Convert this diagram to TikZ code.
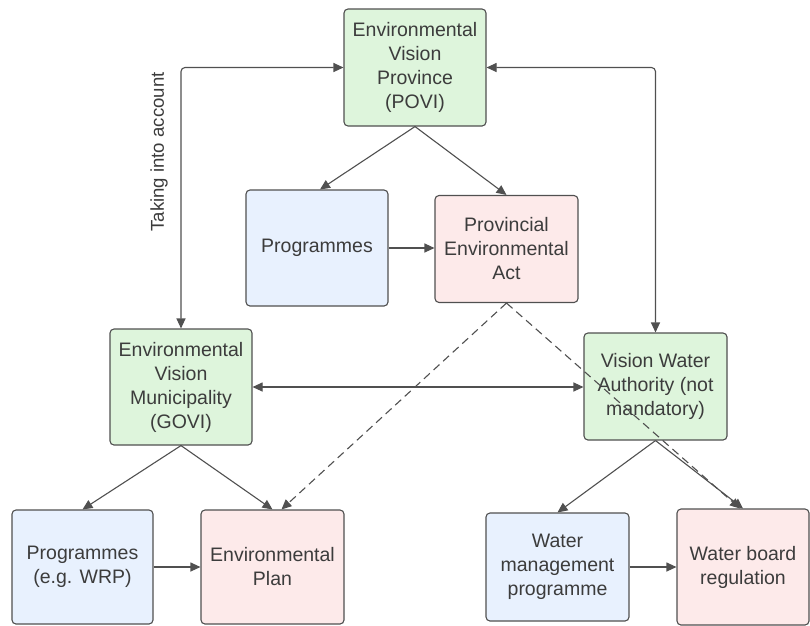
\documentclass[tikz,border=0pt]{standalone}
\usepackage{fontspec}
\setmainfont{Liberation Sans}
\usetikzlibrary{arrows.meta,calc}
\definecolor{gfill}{RGB}{222,245,220}
\definecolor{bfill}{RGB}{232,241,254}
\definecolor{rfill}{RGB}{253,234,234}
\definecolor{edge}{RGB}{80,80,80}
\definecolor{txt}{RGB}{60,60,60}
\begin{document}
\begin{tikzpicture}[x=1pt,y=-1pt,
  box/.style={draw=edge,line width=1.1pt,rounded corners=4pt,align=center,
    text=txt,font=\fontsize{19.5}{24}\selectfont,inner sep=2pt},
  gbox/.style={box,fill=gfill},
  bbox/.style={box,fill=bfill},
  rbox/.style={box,fill=rfill},
  conn/.style={draw=edge,line width=1.1pt,-{Triangle[length=10pt,width=9pt]}},
  bconn/.style={draw=edge,line width=1.1pt,{Triangle[length=10pt,width=9pt]}-{Triangle[length=10pt,width=9pt]},rounded corners=4pt},
  dconn/.style={conn,dash pattern=on 8pt off 5pt}]
\useasboundingbox[fill=white] (0,0) rectangle (810,625);
\node[gbox,minimum width=142pt,minimum height=117pt] (povi) at (415,67.5) {Environmental\\Vision\\Province\\(POVI)};
\node[bbox,minimum width=142pt,minimum height=116pt] (prog1) at (317,248) {Programmes};
\node[rbox,minimum width=143pt,minimum height=107pt] (pea) at (506.5,249) {Provincial\\Environmental\\Act};
\node[gbox,minimum width=142pt,minimum height=116pt] (govi) at (181,387) {Environmental\\Vision\\Municipality\\(GOVI)};
\node[gbox,minimum width=143pt,minimum height=107pt] (vwa) at (655.5,386.5) {Vision Water\\Authority (not\\mandatory)};
\node[bbox,minimum width=141pt,minimum height=114pt] (prog2) at (82.5,567) {Programmes\\(e.g. WRP)};
\node[rbox,minimum width=143pt,minimum height=114pt] (envplan) at (272.5,567) {Environmental\\Plan};
\node[bbox,minimum width=143pt,minimum height=108pt] (wmp) at (557.5,567) {Water\\management\\programme};
\node[rbox,minimum width=132pt,minimum height=116pt] (wbr) at (743,567) {Water board\\regulation};
\node[text=txt,font=\fontsize{18.6}{22}\selectfont,rotate=90] (lbl) at (159,152) {Taking into account};
\draw[bconn] (govi.north) |- (povi.west);
\draw[bconn] (vwa.north) |- (povi.east);
\draw[conn] (povi.south) -- ($(prog1.north)+(3,0)$);
\draw[conn] (povi.south) -- (pea.north);
\draw[conn] (prog1.east) -- (prog1.east -| pea.west);
\draw[bconn] (govi.east) -- (govi.east -| vwa.west);
\draw[conn] (govi.south) -- (prog2.north);
\draw[conn] (govi.south) -- (envplan.north);
\draw[conn] (prog2.east) -- (prog2.east -| envplan.west);
\draw[conn] (vwa.south) -- (wmp.north);
\draw[conn] (vwa.south) -- (wbr.north);
\draw[conn] (wmp.east) -- (wmp.east -| wbr.west);
\draw[dconn] (pea.south) -- ($(envplan.north)+(9,0)$);
\draw[dconn] (pea.south) -- ($(wbr.north)+(-3,0)$);
\end{tikzpicture}
\end{document}
